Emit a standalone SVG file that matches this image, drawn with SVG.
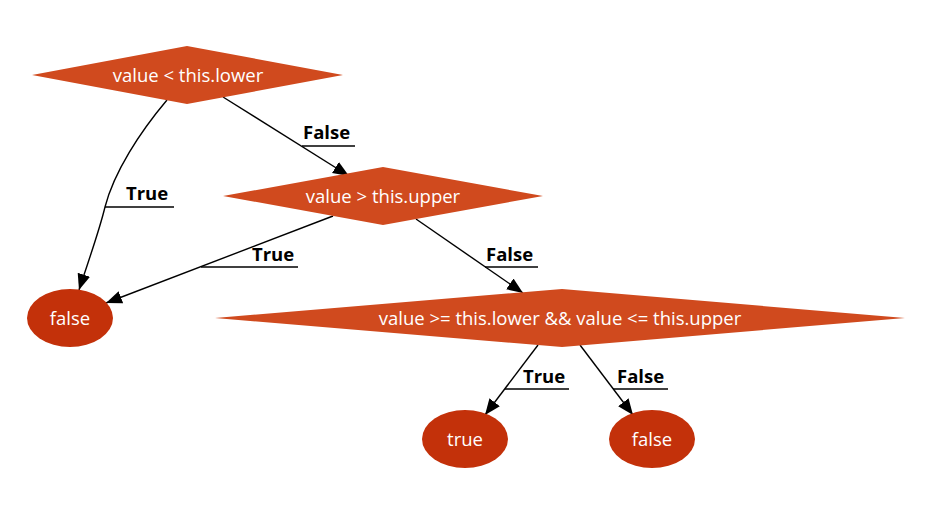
<svg xmlns="http://www.w3.org/2000/svg" width="928" height="517" viewBox="0 0 928 517">
<defs>
<style>
.dia{fill:#D04A1E;}
.ell{fill:#C3310A;}
.nt{font-family:"Open Sans","Noto Sans",sans-serif;font-size:18.5px;fill:#ffffff;text-anchor:middle;}
.edge{fill:none;stroke:#000;stroke-width:1.4;}
.ul{stroke:#000;stroke-width:1.4;}
.lbl{font-family:"Open Sans","Noto Sans",sans-serif;font-size:18.5px;font-weight:bold;fill:#000;}
</style>
<marker id="arr" markerUnits="userSpaceOnUse" markerWidth="18" markerHeight="14" refX="16" refY="6.5" orient="auto">
<path d="M0,0 L16,6.5 L0,13 Z" fill="#000"/>
</marker>
</defs>
<rect width="928" height="517" fill="#fff"/>
<g id="connectors">
<path class="edge" d="M167,100 C140,132 114,172 105,207 C99,232 88,262 79,290" marker-end="url(#arr)"/>
<line class="ul" x1="105" y1="207" x2="174" y2="207"/>
<text class="lbl" x="126" y="200">True</text>
<line class="edge" x1="223" y1="97" x2="349" y2="176" marker-end="url(#arr)"/>
<line class="ul" x1="302" y1="146" x2="355" y2="146"/>
<text class="lbl" x="303" y="139">False</text>
<line class="edge" x1="333" y1="216" x2="106" y2="303" marker-end="url(#arr)"/>
<line class="ul" x1="201" y1="267" x2="298" y2="267"/>
<text class="lbl" x="252" y="261">True</text>
<line class="edge" x1="416" y1="219" x2="523" y2="293" marker-end="url(#arr)"/>
<line class="ul" x1="485" y1="267" x2="538" y2="267"/>
<text class="lbl" x="486" y="261">False</text>
<line class="edge" x1="538" y1="345" x2="485" y2="415" marker-end="url(#arr)"/>
<line class="ul" x1="505" y1="389" x2="569" y2="389"/>
<text class="lbl" x="523" y="383">True</text>
<line class="edge" x1="580" y1="345" x2="633" y2="415" marker-end="url(#arr)"/>
<line class="ul" x1="613" y1="389" x2="668" y2="389"/>
<text class="lbl" x="617" y="383">False</text>
</g>
<g id="n1">
<polygon class="dia" points="32,75 187,46 343,75 187,104"/>
<text class="nt" x="188" y="81.5">value &lt; this.lower</text>
</g>
<g id="n2">
<polygon class="dia" points="223,196 383,167 543,196 383,225"/>
<text class="nt" x="383" y="202.5">value &gt; this.upper</text>
</g>
<g id="n3">
<polygon class="dia" points="215,318 562,289 905,318 562,347"/>
<text class="nt" x="560" y="324.5">value &gt;= this.lower &amp;&amp; value &lt;= this.upper</text>
</g>
<g id="n4">
<ellipse class="ell" cx="70" cy="318" rx="43" ry="29"/>
<text class="nt" x="70" y="324.5">false</text>
</g>
<g id="n5">
<ellipse class="ell" cx="465" cy="439" rx="43" ry="29"/>
<text class="nt" x="465" y="445.5">true</text>
</g>
<g id="n6">
<ellipse class="ell" cx="652" cy="439" rx="43" ry="29"/>
<text class="nt" x="652" y="445.5">false</text>
</g>
</svg>
